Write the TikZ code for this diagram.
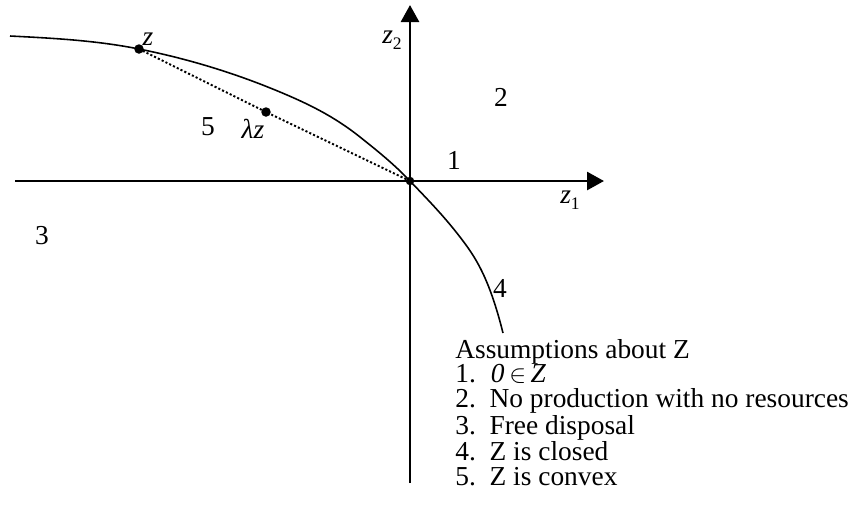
\documentclass[tikz,border=0pt]{standalone}
\usepackage{fontspec}
\setmainfont{Liberation Serif}
\usetikzlibrary{arrows.meta,positioning}

\begin{document}
\begin{tikzpicture}[x=0.02cm, y=-0.02cm, font=\fontsize{15.6}{13.95}\selectfont,
  >={Triangle[length=0.34cm,width=0.36cm]},
  axis/.style={line width=1.6pt},
  frontier/.style={line width=0.9pt},
  dot/.style={circle, fill, inner sep=0pt, minimum size=0.19cm},
  lbl/.style={inner sep=0pt}]
\useasboundingbox (0,0) rectangle (853,525);
% ---------- axes z_1, z_2 ----------
\coordinate (xs) at (15,181);
\coordinate (xe) at (604,181);
\coordinate (ys) at (410,483);
\coordinate (ye) at (410,5);
\draw[axis,->] (xs) -- (xe);
\draw[axis,->] (ys) -- (ye);
\node[lbl] (z1) at (570,200) {\textit{z}\raisebox{-0.45ex}{\fontsize{10}{10}\selectfont 1}};
\node[lbl] (z2) at (392,40) {\textit{z}\raisebox{-0.45ex}{\fontsize{10}{10}\selectfont 2}};
% ---------- boundary of Z ----------
\draw[frontier] (10,36) .. controls (53,38.2) and (96,40.4) .. (139,49)
  .. controls (186,58.4) and (233,72.3) .. (280,92)
  .. controls (306.7,103.2) and (333.3,115.7) .. (360,137)
  .. controls (376.7,150.3) and (393.3,163.5) .. (410,181)
  .. controls (426.7,198.5) and (443.3,215.3) .. (460,237)
  .. controls (474.3,255.6) and (488.7,275.7) .. (503,333);
% ---------- convex combination ----------
\node[dot] (z) at (139,49) {};
\node[dot, minimum size=0.17cm] (o) at (410,181) {};
\node[dot] (lz) at (266,112) {};
\draw[line width=1.1pt, dash pattern=on 1.2pt off 1.2pt] (z.center) -- (lz.center) -- (o.center);
\node[lbl] (zl) at (148,39) {\textit{z}};
\node[lbl] (lzl) at (253,129) {\textit{λz}};
% ---------- region numbers ----------
\node[lbl] (n1) at (454,160) {1};
\node[lbl] (n2) at (501,97) {2};
\node[lbl] (n3) at (42,236) {3};
\node[lbl] (n4) at (500,288) {4};
\node[lbl] (n5) at (208,127) {5};
% ---------- list of assumptions ----------
\node[lbl, anchor=north west, align=left] (assume) at (455,339) {Assumptions about Z\\
  1.\hspace{0.55em}\textit{0}\,$\in$\,\textit{Z}\\
  2.\hspace{0.5em}No production with no resources\\
  3.\hspace{0.5em}Free disposal\\
  4.\hspace{0.5em}Z is closed\\
  5.\hspace{0.5em}Z is convex};
\end{tikzpicture}
\end{document}
